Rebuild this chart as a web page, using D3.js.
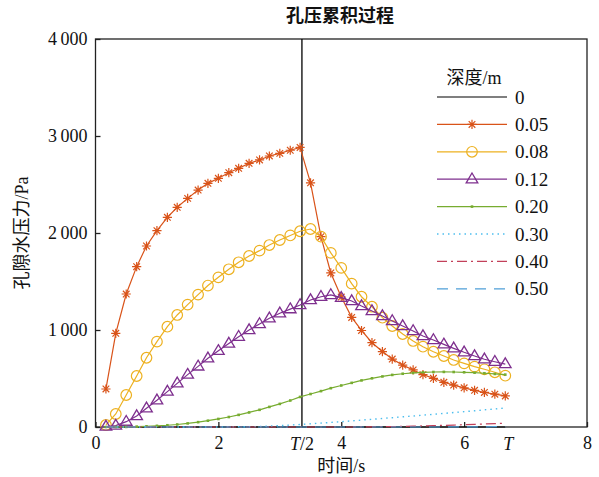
<!DOCTYPE html>
<html>
<head>
<meta charset="utf-8">
<script src="https://cdn.jsdelivr.net/npm/d3@7"></script>
<style>
  body { margin: 0; background: #fff; }
  svg text { font-family: "Liberation Serif", "Times New Roman", "Noto Sans CJK SC", serif; fill: #111; }
</style>
</head>
<body>
<svg id="chart" width="599" height="477"></svg>
<script>
// Time steps (s) and the two special times
const times = [0.17, 0.33, 0.50, 0.67, 0.83, 1.00, 1.17, 1.33, 1.50, 1.67,
  1.83, 2.00, 2.17, 2.33, 2.50, 2.67, 2.83, 3.00, 3.17, 3.33,
  3.50, 3.67, 3.83, 4.00, 4.17, 4.33, 4.50, 4.67, 4.83, 5.00,
  5.17, 5.33, 5.50, 5.67, 5.83, 6.00, 6.17, 6.33, 6.50, 6.67];
const halfT = 3.36;
const fullT = 6.72;

// Pore pressure (Pa) per depth
const depths = ["0", "0.05", "0.08", "0.12", "0.20", "0.30", "0.40", "0.50"];
const p000 = [0, 0, 0, 0, 0, 0, 0, 0, 0, 0, 0, 0, 0, 0, 0, 0, 0, 0, 0, 0,
  0, 0, 0, 0, 0, 0, 0, 0, 0, 0, 0, 0, 0, 0, 0, 0, 0, 0, 0, 0];
const p005 = [392, 966, 1371, 1653, 1866, 2024, 2162, 2265, 2357, 2443,
  2512, 2564, 2622, 2667, 2718, 2753, 2794, 2821, 2853, 2882,
  2517, 1962, 1588, 1340, 1130, 995, 869, 778, 700, 638,
  588, 540, 502, 461, 432, 404, 378, 356, 338, 320];
const p008 = [21, 134, 330, 526, 714, 880, 1034, 1155, 1262, 1365,
  1458, 1543, 1626, 1698, 1763, 1818, 1876, 1928, 1975, 2018,
  2041, 1962, 1795, 1640, 1478, 1343, 1240, 1127, 1041, 959,
  887, 828, 776, 732, 691, 656, 622, 595, 564, 529];
const p012 = [5, 15, 55, 113, 193, 275, 365, 450, 540, 625,
  708, 785, 860, 931, 1000, 1062, 1121, 1172, 1215, 1258,
  1309, 1343, 1361, 1333, 1299, 1247, 1196, 1144, 1093, 1041,
  990, 938, 897, 852, 811, 770, 732, 698, 673, 649];
const p020 = [0, 0, 1, 4, 7, 12, 18, 26, 37, 50,
  65, 83, 103, 125, 150, 177, 207, 238, 273, 310,
  340, 370, 400, 428, 455, 480, 502, 521, 537, 549,
  558, 564, 567, 568, 567, 564, 560, 554, 547, 540];
const p030 = [0, 0, 0, 0, 0, 0, 0, 0, 0, 0,
  0, 0, 1, 2, 3, 5, 9, 14, 20, 26,
  33, 40, 47, 55, 63, 71, 79, 88, 96, 105,
  113, 122, 131, 140, 149, 158, 167, 177, 186, 196];
const p040 = [0, 0, 0, 0, 0, 0, 0, 0, 0, 0,
  0, 0, 0, 0, 0, 0, 0, 0, 0, 0,
  0, 0, 0, 0, 0, 1, 2, 3, 4, 6,
  8, 11, 14, 17, 20, 24, 28, 31, 35, 39];
const p050 = [0, 0, 0, 0, 0, 0, 0, 0, 0, 0,
  0, 0, 0, 0, 0, 0, 0, 0, 0, 0,
  0, 0, 0, 0, 0, 0, 0, 0, 0, 0,
  0, 0, 0, 0, 1, 1, 2, 2, 3, 4];
const seriesValues = [p000, p005, p008, p012, p020, p030, p040, p050];

const xTicks = [0, 2, 4, 6, 8];
const yTicks = [0, 1000, 2000, 3000, 4000];

// Look of each series (same order as depths)
const colors = ["#000000", "#D95319", "#EDB120", "#7E2F8E", "#77AC30", "#4DBEEE", "#C2405A", "#4F9FD8"];
const dashes = [null, null, null, null, null, "1.5,4", "10,4,2,4", "11,8"];
const markers = [null, "star", "circle", "triangle", "dot", null, null, null];

const svg = d3.select("#chart");
const margin = { top: 39, right: 12, bottom: 50, left: 95.5 };
const width = 599, height = 477;

const x = d3.scaleLinear().domain([0, 8]).range([margin.left, width - margin.right]);
const y = d3.scaleLinear().domain([0, 4000]).range([height - margin.bottom, margin.top]);

// Title
svg.append("text")
  .attr("x", 340).attr("y", 22)
  .attr("text-anchor", "middle")
  .attr("font-size", 18)
  .attr("font-weight", "bold")
  .text("孔压累积过程");

// Axes, ticks pointing inward
const fmt = d => d3.format(",")(d).replace(",", "\u2009");

svg.append("g")
  .attr("transform", "translate(0," + y(0) + ")")
  .call(d3.axisBottom(x).tickValues(xTicks).tickSizeInner(-5).tickSizeOuter(0).tickPadding(9))
  .call(g => g.select(".domain").remove())
  .call(g => g.selectAll("line").attr("stroke", "#222").attr("stroke-width", 1.3))
  .call(g => g.selectAll("text").attr("font-size", 18).attr("fill", "#111"));

svg.append("g")
  .attr("transform", "translate(" + x(0) + ",0)")
  .call(d3.axisLeft(y).tickValues(yTicks).tickSizeInner(-5).tickSizeOuter(0).tickFormat(fmt).tickPadding(8))
  .call(g => g.select(".domain").remove())
  .call(g => g.selectAll("line").attr("stroke", "#222").attr("stroke-width", 1.3))
  .call(g => g.selectAll("text").attr("font-size", 18).attr("fill", "#111"));

// T/2 and T labels
[[halfT, "/2"], [fullT, ""]].forEach(([t, rest]) => {
  const lab = svg.append("text")
    .attr("x", x(t)).attr("y", y(0) + 23)
    .attr("text-anchor", "middle")
    .attr("font-size", 18);
  lab.append("tspan").attr("font-style", "italic").text("T");
  if (rest) lab.append("tspan").text(rest);
});

// Axis titles
svg.append("text")
  .attr("x", x(4)).attr("y", 472)
  .attr("text-anchor", "middle")
  .attr("font-size", 18)
  .text("时间/s");

svg.append("text")
  .attr("transform", "translate(28," + y(2000) + ") rotate(-90)")
  .attr("text-anchor", "middle")
  .attr("font-size", 18)
  .text("孔隙水压力/Pa");

// Plot frame
svg.append("rect")
  .attr("x", x(0)).attr("y", y(4000))
  .attr("width", x(8) - x(0)).attr("height", y(0) - y(4000))
  .attr("fill", "none").attr("stroke", "#222").attr("stroke-width", 1.3);

// Vertical line at T/2
svg.append("line")
  .attr("x1", x(halfT)).attr("x2", x(halfT))
  .attr("y1", y(0)).attr("y2", y(4000))
  .attr("stroke", "#000").attr("stroke-width", 1.3);

function drawMarker(g, type, color) {
  if (type === "star") {
    const r = 4.6, a = r * 0.72;
    g.append("path")
      .attr("d", `M${-r},0H${r}M0,${-r}V${r}M${-a},${-a}L${a},${a}M${-a},${a}L${a},${-a}`)
      .attr("stroke", color).attr("stroke-width", 1.2).attr("fill", "none");
  } else if (type === "circle") {
    g.append("circle").attr("r", 5.3)
      .attr("stroke", color).attr("stroke-width", 1.2).attr("fill", "none");
  } else if (type === "triangle") {
    g.append("path").attr("d", "M0,-6.2L5.8,3.6L-5.8,3.6Z")
      .attr("stroke", color).attr("stroke-width", 1.3).attr("fill", "none");
  } else if (type === "dot") {
    g.append("rect").attr("x", -1.3).attr("y", -1.3).attr("width", 2.6).attr("height", 2.6)
      .attr("fill", color);
  }
}

const line = d3.line()
  .x((d, i) => x(times[i]))
  .y(d => y(d));

const plot = svg.append("g");

seriesValues.forEach((vals, k) => {
  const g = plot.append("g");
  g.append("path")
    .datum(vals)
    .attr("d", line)
    .attr("fill", "none")
    .attr("stroke", colors[k])
    .attr("stroke-width", k === 5 ? 1.4 : 1.2)
    .attr("stroke-dasharray", dashes[k]);
  if (markers[k]) {
    vals.forEach((v, i) => {
      const m = g.append("g").attr("transform", "translate(" + x(times[i]) + "," + y(v) + ")");
      drawMarker(m, markers[k], colors[k]);
    });
  }
});

// Legend
const legend = svg.append("g").attr("transform", "translate(437,0)");
legend.append("text")
  .attr("x", 37).attr("y", 84)
  .attr("text-anchor", "middle")
  .attr("font-size", 18)
  .text("深度/m");

depths.forEach((dep, k) => {
  const rowY = 97 + k * 27.4;
  const row = legend.append("g").attr("transform", "translate(0," + rowY + ")");
  row.append("line")
    .attr("x1", 0).attr("x2", 70)
    .attr("stroke", colors[k])
    .attr("stroke-width", k === 5 ? 1.4 : 1.2)
    .attr("stroke-dasharray", dashes[k]);
  if (markers[k]) {
    const m = row.append("g").attr("transform", "translate(35,0)");
    drawMarker(m, markers[k], colors[k]);
  }
  row.append("text")
    .attr("x", 78).attr("y", 0).attr("dy", "0.35em")
    .attr("font-size", 19)
    .text(dep);
});
</script>
</body>
</html>
